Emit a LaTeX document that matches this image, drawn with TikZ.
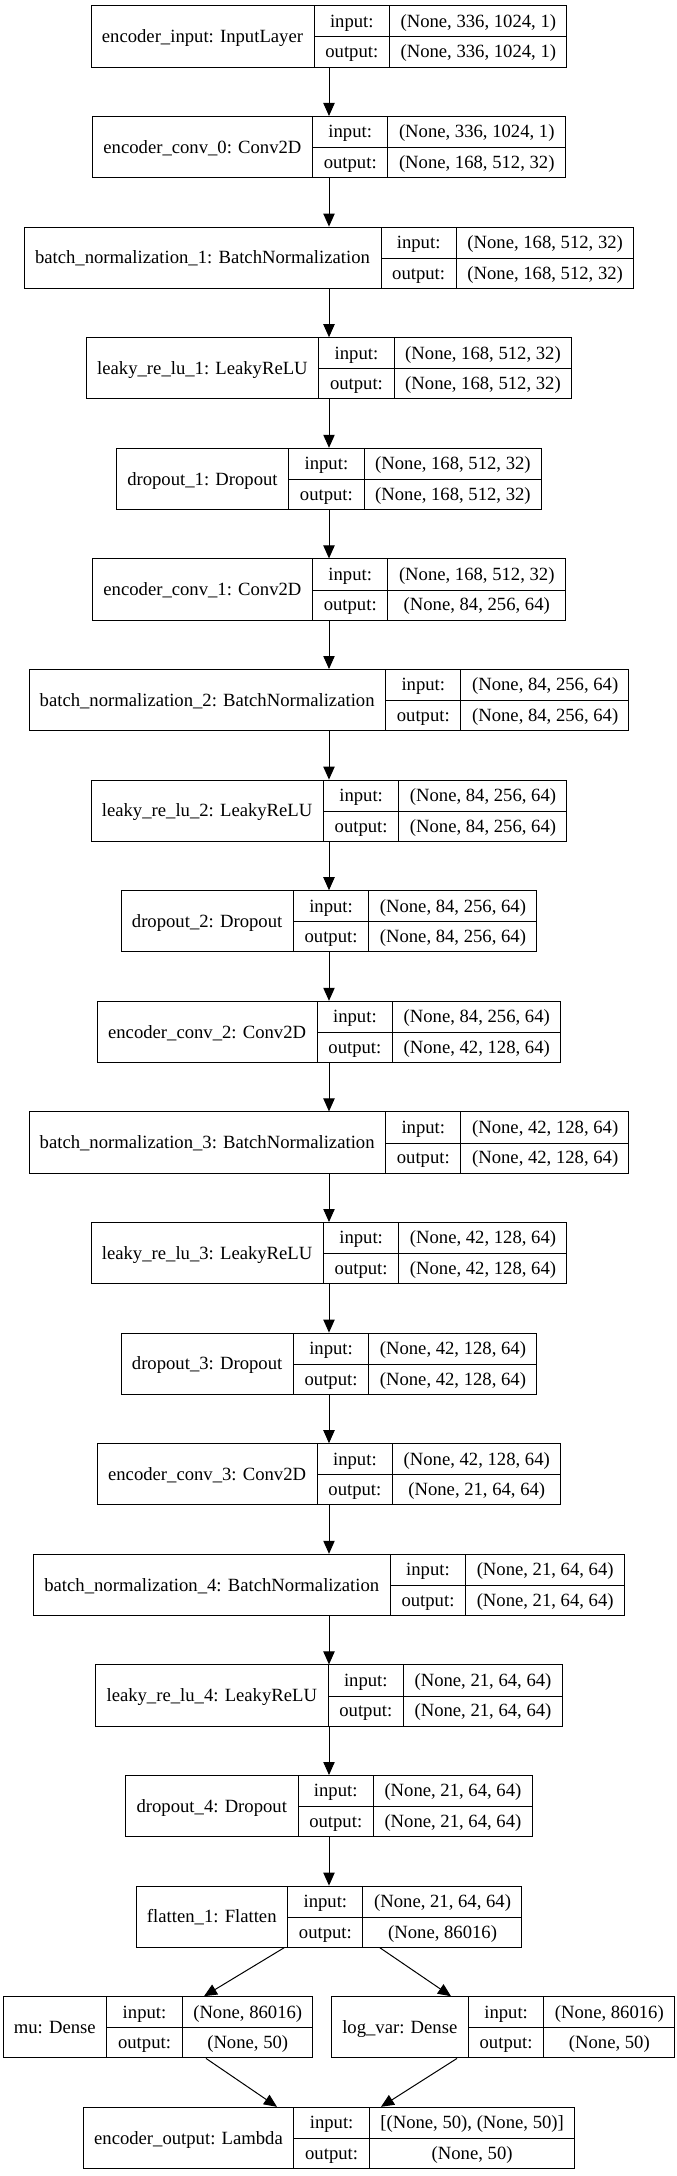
\documentclass[tikz,border=0pt]{standalone}
\usepackage{fontspec}
\setmainfont{Liberation Serif}
\usepackage{array}
\usetikzlibrary{arrows.meta,positioning}

\setlength{\tabcolsep}{8pt}
\setlength{\arrayrulewidth}{0.75pt}
\renewcommand{\arraystretch}{1.35}
\newcommand{\lay}[3]{\begin{tabular}{c|c|c}
\raisebox{-11.5pt}[0pt][0pt]{#1} & input: & #2\\ \cline{2-3}
 & output: & #3
\end{tabular}}

\begin{document}
\begin{tikzpicture}[x=0.75pt,y=0.75pt,node distance=82.95pt,on grid,
  >={Triangle[length=9.75pt,width=8.5pt]},line width=0.75pt,
  layer/.style={draw,inner sep=0pt,font=\fontsize{14}{17}\selectfont}]
\useasboundingbox (0,0) rectangle (677,-2176);
\node[layer] (enc_in) at (329,-36.5) {\lay{encoder\_input: InputLayer}{(None, 336, 1024, 1)}{(None, 336, 1024, 1)}};
\node[layer] (conv_0) [below=of enc_in] {\lay{encoder\_conv\_0: Conv2D}{(None, 336, 1024, 1)}{(None, 168, 512, 32)}};
\node[layer] (bn_1) [below=of conv_0] {\lay{batch\_normalization\_1: BatchNormalization}{(None, 168, 512, 32)}{(None, 168, 512, 32)}};
\node[layer] (lrelu_1) [below=of bn_1] {\lay{leaky\_re\_lu\_1: LeakyReLU}{(None, 168, 512, 32)}{(None, 168, 512, 32)}};
\node[layer] (drop_1) [below=of lrelu_1] {\lay{dropout\_1: Dropout}{(None, 168, 512, 32)}{(None, 168, 512, 32)}};
\node[layer] (conv_1) [below=of drop_1] {\lay{encoder\_conv\_1: Conv2D}{(None, 168, 512, 32)}{(None, 84, 256, 64)}};
\node[layer] (bn_2) [below=of conv_1] {\lay{batch\_normalization\_2: BatchNormalization}{(None, 84, 256, 64)}{(None, 84, 256, 64)}};
\node[layer] (lrelu_2) [below=of bn_2] {\lay{leaky\_re\_lu\_2: LeakyReLU}{(None, 84, 256, 64)}{(None, 84, 256, 64)}};
\node[layer] (drop_2) [below=of lrelu_2] {\lay{dropout\_2: Dropout}{(None, 84, 256, 64)}{(None, 84, 256, 64)}};
\node[layer] (conv_2) [below=of drop_2] {\lay{encoder\_conv\_2: Conv2D}{(None, 84, 256, 64)}{(None, 42, 128, 64)}};
\node[layer] (bn_3) [below=of conv_2] {\lay{batch\_normalization\_3: BatchNormalization}{(None, 42, 128, 64)}{(None, 42, 128, 64)}};
\node[layer] (lrelu_3) [below=of bn_3] {\lay{leaky\_re\_lu\_3: LeakyReLU}{(None, 42, 128, 64)}{(None, 42, 128, 64)}};
\node[layer] (drop_3) [below=of lrelu_3] {\lay{dropout\_3: Dropout}{(None, 42, 128, 64)}{(None, 42, 128, 64)}};
\node[layer] (conv_3) [below=of drop_3] {\lay{encoder\_conv\_3: Conv2D}{(None, 42, 128, 64)}{(None, 21, 64, 64)}};
\node[layer] (bn_4) [below=of conv_3] {\lay{batch\_normalization\_4: BatchNormalization}{(None, 21, 64, 64)}{(None, 21, 64, 64)}};
\node[layer] (lrelu_4) [below=of bn_4] {\lay{leaky\_re\_lu\_4: LeakyReLU}{(None, 21, 64, 64)}{(None, 21, 64, 64)}};
\node[layer] (drop_4) [below=of lrelu_4] {\lay{dropout\_4: Dropout}{(None, 21, 64, 64)}{(None, 21, 64, 64)}};
\node[layer] (flat_1) [below=of drop_4] {\lay{flatten\_1: Flatten}{(None, 21, 64, 64)}{(None, 86016)}};
\node[layer] (mu) [below=of flat_1,xshift=-128.25pt] {\lay{mu: Dense}{(None, 86016)}{(None, 50)}};
\node[layer] (log_var) [below=of flat_1,xshift=130.5pt] {\lay{log\_var: Dense}{(None, 86016)}{(None, 50)}};
\node[layer] (enc_out) [below=165.9pt of flat_1] {\lay{encoder\_output: Lambda}{[(None, 50), (None, 50)]}{(None, 50)}};
\path[->]
(enc_in) edge (conv_0)
(conv_0) edge (bn_1)
(bn_1) edge (lrelu_1)
(lrelu_1) edge (drop_1)
(drop_1) edge (conv_1)
(conv_1) edge (bn_2)
(bn_2) edge (lrelu_2)
(lrelu_2) edge (drop_2)
(drop_2) edge (conv_2)
(conv_2) edge (bn_3)
(bn_3) edge (lrelu_3)
(lrelu_3) edge (drop_3)
(drop_3) edge (conv_3)
(conv_3) edge (bn_4)
(bn_4) edge (lrelu_4)
(lrelu_4) edge (drop_4)
(drop_4) edge (flat_1)
([xshift=-33.75pt]flat_1.south) edge ([xshift=34.5pt]mu.north)
([xshift=38.25pt]flat_1.south) edge ([xshift=-39pt]log_var.north)
([xshift=36pt]mu.south) edge ([xshift=-39pt]enc_out.north)
([xshift=-34.5pt]log_var.south) edge ([xshift=39pt]enc_out.north)
;
\end{tikzpicture}
\end{document}
